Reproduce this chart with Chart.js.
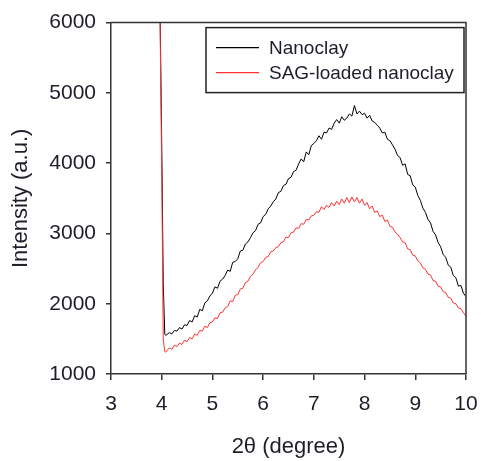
<!DOCTYPE html>
<html>
<head>
<meta charset="utf-8">
<script src="https://cdn.jsdelivr.net/npm/chart.js@4.4.0/dist/chart.umd.min.js"></script>
<style>
  html, body { margin: 0; padding: 0; background: #fff; }
  #wrap { width: 481px; height: 461px; }
</style>
</head>
<body>
<div id="wrap"><canvas id="xrdChart" width="481" height="461"></canvas></div>
<script>
// 2theta values (degree), shared by both scans
var twoTheta = [
  3.96, 4.00, 4.03, 4.06, 4.08,
  4.10, 4.15, 4.20, 4.25, 4.30, 4.35, 4.40, 4.45, 4.50, 4.55,
  4.60, 4.65, 4.70, 4.75, 4.80, 4.85, 4.90, 4.95, 5.00, 5.05,
  5.10, 5.15, 5.20, 5.25, 5.30, 5.35, 5.40, 5.45, 5.50, 5.55,
  5.60, 5.65, 5.70, 5.75, 5.80, 5.85, 5.90, 5.95, 6.00, 6.05,
  6.10, 6.15, 6.20, 6.25, 6.30, 6.35, 6.40, 6.45, 6.50, 6.55,
  6.60, 6.65, 6.70, 6.75, 6.80, 6.85, 6.90, 6.95, 7.00, 7.05,
  7.10, 7.15, 7.20, 7.25, 7.30, 7.35, 7.40, 7.45, 7.50, 7.55,
  7.60, 7.65, 7.70, 7.75, 7.80, 7.85, 7.90, 7.95, 8.00, 8.05,
  8.10, 8.15, 8.20, 8.25, 8.30, 8.35, 8.40, 8.45, 8.50, 8.55,
  8.60, 8.65, 8.70, 8.75, 8.80, 8.85, 8.90, 8.95, 9.00, 9.05,
  9.10, 9.15, 9.20, 9.25, 9.30, 9.35, 9.40, 9.45, 9.50, 9.55,
  9.60, 9.65, 9.70, 9.75, 9.80, 9.85, 9.90, 9.95, 10.00
];

// Nanoclay intensity (a.u.)
var nanoclay = [
  6600, 4300, 2300, 1570, 1550,
  1560, 1590, 1570, 1620, 1610, 1660, 1640, 1700, 1690, 1760,
  1740, 1830, 1810, 1920, 1900, 2010, 2040, 2110, 2150, 2240,
  2220, 2320, 2350, 2400, 2480, 2460, 2590, 2600, 2640, 2750,
  2760, 2850, 2880, 2940, 3010, 3040, 3130, 3150, 3240, 3270,
  3350, 3390, 3450, 3490, 3580, 3600, 3680, 3700, 3780, 3800,
  3880, 3900, 3990, 4060, 4020, 4160, 4120, 4250, 4280, 4320,
  4390, 4340, 4440, 4430, 4500, 4480, 4570, 4620, 4570, 4660,
  4610, 4640, 4700, 4670, 4820, 4700, 4740, 4690, 4710, 4640,
  4680, 4600, 4580, 4540, 4500, 4430, 4440, 4340, 4320, 4260,
  4200, 4110, 4080, 3970, 3990, 3840, 3820, 3690, 3660, 3540,
  3470, 3360, 3300, 3200, 3150, 3030, 2980, 2870, 2810, 2700,
  2660, 2550, 2520, 2400, 2370, 2250, 2260, 2150, 2100
];

// SAG-loaded nanoclay intensity (a.u.)
var sagLoaded = [
  6500, 3900, 1500, 1320, 1310,
  1330, 1370, 1350, 1410, 1390, 1440, 1420, 1480, 1460, 1520,
  1500, 1570, 1550, 1620, 1610, 1680, 1660, 1730, 1740, 1800,
  1790, 1870, 1880, 1940, 1960, 2040, 2030, 2120, 2130, 2210,
  2220, 2300, 2320, 2390, 2420, 2480, 2520, 2580, 2600, 2660,
  2670, 2740, 2750, 2800, 2810, 2870, 2880, 2950, 2940, 3010,
  3020, 3080, 3070, 3140, 3130, 3200, 3190, 3250, 3260, 3310,
  3300, 3380, 3340, 3400, 3370, 3440, 3390, 3460, 3410, 3490,
  3430, 3510, 3440, 3520, 3450, 3510, 3430, 3490, 3400, 3440,
  3350, 3390, 3300, 3320, 3240, 3260, 3170, 3190, 3100, 3090,
  3020, 2990, 2940, 2880, 2870, 2780, 2770, 2690, 2680, 2610,
  2580, 2510, 2490, 2420, 2410, 2330, 2320, 2250, 2240, 2170,
  2160, 2090, 2080, 2010, 2000, 1940, 1930, 1870, 1820
];

var seriesNames = ["Nanoclay", "SAG-loaded nanoclay"];
var seriesColors = ["#000000", "#ff3333"];

var FONT = "'Liberation Sans', Arial, sans-serif";
var TEXT = "#1e1e28";
var AXIS = "#333333";

function toPoints(ys) {
  var pts = [];
  for (var i = 0; i < twoTheta.length; i++) {
    pts.push({ x: twoTheta[i], y: ys[i] });
  }
  return pts;
}

// frame on top/right and the boxed legend inside the plot
var framePlugin = {
  id: "frameAndLegend",
  afterDatasetsDraw: function (chart) {
    var ctx = chart.ctx;
    var a = chart.chartArea;
    ctx.save();
    ctx.strokeStyle = AXIS;
    ctx.lineWidth = 1.5;
    ctx.beginPath();
    ctx.moveTo(a.left, a.top);
    ctx.lineTo(a.right, a.top);
    ctx.lineTo(a.right, a.bottom);
    ctx.stroke();

    // legend box
    var bx = a.left + 95, by = a.top + 5, bw = a.right - 2 - bx, bh = 65;
    ctx.fillStyle = "#fff";
    ctx.fillRect(bx, by, bw, bh);
    ctx.strokeStyle = "#222";
    ctx.lineWidth = 1.5;
    ctx.strokeRect(bx, by, bw, bh);

    ctx.font = "19px " + FONT;
    ctx.textBaseline = "middle";
    ctx.textAlign = "left";
    var ds = chart.data.datasets;
    for (var i = 0; i < ds.length; i++) {
      var ly = by + 20 + i * 25;
      ctx.strokeStyle = ds[i].borderColor;
      ctx.lineWidth = 1.2;
      ctx.beginPath();
      ctx.moveTo(bx + 10, ly);
      ctx.lineTo(bx + 53, ly);
      ctx.stroke();
      ctx.fillStyle = TEXT;
      ctx.fillText(ds[i].label, bx + 63, ly + 1);
    }
    ctx.restore();
  }
};

var config = {
  type: "line",
  data: {
    datasets: [
      {
        label: seriesNames[0],
        data: toPoints(nanoclay),
        borderColor: seriesColors[0],
        borderWidth: 1,
        pointRadius: 0,
        tension: 0,
        order: 2
      },
      {
        label: seriesNames[1],
        data: toPoints(sagLoaded),
        borderColor: seriesColors[1],
        borderWidth: 1,
        pointRadius: 0,
        tension: 0,
        order: 1
      }
    ]
  },
  options: {
    responsive: false,
    animation: false,
    layout: { padding: { left: 0, right: 15, top: 20, bottom: 0 } },
    plugins: {
      legend: { display: false },
      tooltip: { enabled: false }
    },
    scales: {
      x: {
        type: "linear",
        min: 3,
        max: 10,
        ticks: {
          stepSize: 1,
          padding: 12,
          color: TEXT,
          font: { family: FONT, size: 21 }
        },
        grid: {
          drawOnChartArea: false,
          drawTicks: true,
          tickLength: 6,
          color: AXIS,
          lineWidth: 1.5
        },
        border: { color: AXIS, width: 1.5 },
        title: {
          display: true,
          text: "2\u03b8 (degree)",
          color: TEXT,
          font: { family: FONT, size: 22 },
          padding: { top: 0, bottom: 1 }
        },
        afterFit: function (scale) {
          scale.height = 87;
          scale.paddingLeft = 0;
          scale.paddingRight = 0;
        }
      },
      y: {
        min: 1000,
        max: 6000,
        ticks: {
          stepSize: 1000,
          padding: 10,
          color: TEXT,
          font: { family: FONT, size: 21 },
          callback: function (v) { return String(v); }
        },
        grid: {
          drawOnChartArea: false,
          drawTicks: true,
          tickLength: 5,
          color: AXIS,
          lineWidth: 1.5
        },
        border: { color: AXIS, width: 1.5 },
        title: {
          display: true,
          text: "Intensity (a.u.)",
          color: TEXT,
          font: { family: FONT, size: 22 },
          padding: { top: 8, bottom: 0 }
        },
        afterFit: function (scale) { scale.width = 111; }
      }
    }
  },
  plugins: [framePlugin]
};

var ctx = document.getElementById("xrdChart").getContext("2d");
var chart = new Chart(ctx, config);
</script>
</body>
</html>
